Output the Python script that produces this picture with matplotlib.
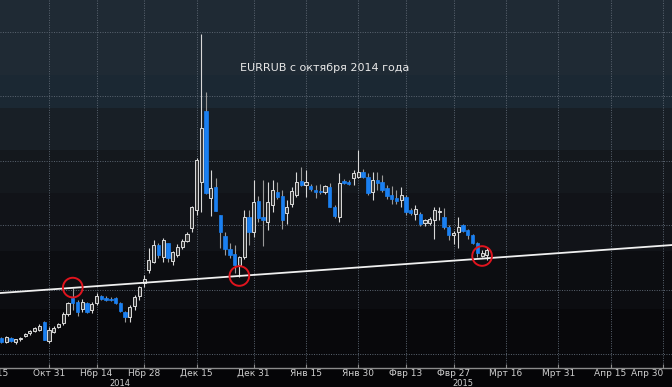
import numpy as np
import pandas as pd
import matplotlib
matplotlib.use("Agg")
import matplotlib.pyplot as plt
import matplotlib.transforms as mtransforms

# daily EURRUB candles (weekdays)
dates = pd.bdate_range("2014-10-17", "2015-03-10")
opens = [52.5, 51.9, 52.5, 51.9, 52.3, 52.8, 53.3, 53.6, 53.8, 55.0, 52.0,
         53.4, 54.2, 54.8, 56.2, 58.7, 58.1, 57.0, 57.9, 56.9, 57.9, 59.0, 58.7, 58.6, 58.7, 57.9,
         56.5, 55.7, 57.4, 59.0, 61.0,
         63.0, 64.3, 66.9, 65.0, 67.2, 64.5, 65.4, 66.6, 67.6, 69.5, 72.3, 76.7, 87.7, 74.2, 75.9,
         71.5, 68.3, 66.3, 65.5, 63.8, 65.0, 71.2, 68.9,
         73.7, 71.2, 70.5, 73.1, 75.1, 74.5, 71.9, 73.3, 74.7, 76.8, 76.2, 76.0, 75.5, 75.3, 75.1,
         75.9, 72.8, 71.2, 76.8, 76.6, 77.3, 77.4,
         78.2, 77.4, 75.1, 77.0, 76.7, 75.7, 74.6, 74.2, 73.9, 74.3, 72.3, 71.7, 71.7, 70.3, 70.3,
         70.8, 72.0, 71.2, 69.7, 68.5,
         68.9, 70.0, 69.2, 68.4, 67.2, 65.2, 65.3]
highs = [52.6, 52.8, 52.6, 52.4, 52.7, 53.3, 53.7, 54.2, 54.6, 55.1, 54.2,
         54.3, 54.8, 56.5, 58.0, 60.2, 58.3, 58.5, 58.1, 58.1, 59.5, 59.2, 59.0, 58.8, 58.9, 58.0,
         56.7, 57.6, 59.1, 60.6, 62.2,
         66.5, 67.7, 67.2, 68.0, 67.2, 66.0, 67.0, 67.9, 68.9, 73.0, 80.4, 99.6, 90.6, 78.5, 77.3,
         71.6, 68.9, 67.2, 66.9, 65.2, 72.3, 72.3, 77.0,
         74.5, 77.0, 76.7, 77.0, 76.7, 75.4, 73.9, 75.9, 78.2, 79.0, 78.5, 76.4, 76.2, 76.4, 76.2,
         76.5, 73.1, 78.1, 77.1, 77.0, 78.5, 81.6,
         78.7, 78.1, 78.2, 78.2, 77.8, 76.2, 76.0, 75.5, 75.9, 74.7, 72.6, 73.1, 72.0, 71.0, 71.2,
         72.8, 72.8, 72.6, 70.0, 69.0,
         71.2, 70.2, 69.4, 68.6, 67.3, 66.1, 66.6]
lows = [51.7, 51.7, 51.9, 51.6, 52.0, 52.7, 53.0, 53.4, 53.6, 52.1, 51.7,
        53.2, 54.0, 54.5, 55.9, 56.8, 55.9, 56.5, 56.3, 56.4, 57.6, 58.4, 58.2, 58.2, 57.8, 56.5,
        55.0, 55.0, 56.8, 58.4, 60.4,
        62.6, 64.1, 64.9, 64.3, 64.3, 63.8, 65.0, 66.3, 67.3, 68.9, 71.5, 72.0, 74.8, 71.4, 72.2,
        66.4, 65.3, 64.9, 62.6, 62.0, 64.8, 66.9, 68.1,
        70.5, 66.7, 69.2, 72.0, 74.0, 69.4, 70.2, 72.8, 74.3, 76.0, 74.3, 75.3, 74.2, 74.8, 74.8,
        72.8, 71.1, 70.5, 76.3, 76.2, 76.2, 77.3,
        77.3, 74.7, 73.9, 75.5, 75.2, 74.0, 73.3, 73.2, 72.8, 71.6, 71.5, 70.8, 69.9, 69.8, 70.0,
        67.8, 70.8, 69.4, 67.7, 67.0,
        66.4, 68.9, 67.8, 67.0, 65.0, 65.1, 64.6]
closes = [51.9, 52.6, 52.0, 52.3, 52.5, 53.1, 53.6, 54.0, 54.4, 52.2, 53.7,
          54.0, 54.6, 56.2, 57.9, 57.9, 56.5, 58.1, 56.5, 57.8, 59.0, 58.5, 58.4, 58.4, 57.9, 56.7,
          55.7, 57.3, 58.8, 60.4, 61.6,
          64.6, 66.9, 65.3, 67.7, 64.9, 65.8, 66.6, 67.6, 68.6, 72.8, 80.1, 85.0, 75.0, 75.7, 72.2,
          68.9, 66.3, 65.3, 63.8, 65.0, 71.2, 68.9, 73.6,
          71.1, 70.8, 73.6, 75.4, 74.3, 70.8, 72.8, 75.3, 76.7, 76.2, 76.7, 75.6, 75.1, 75.1, 76.0,
          72.8, 71.4, 76.5, 76.5, 76.4, 78.1, 78.2,
          77.4, 75.0, 77.0, 76.5, 75.4, 74.5, 74.0, 73.7, 74.7, 72.0, 71.8, 72.5, 70.2, 70.8, 71.0,
          72.3, 72.2, 69.7, 68.4, 68.7,
          69.7, 69.1, 68.4, 67.2, 65.6, 65.6, 66.2]

# support line and the three touches
trend_dates = ["2014-10-17", "2015-04-30"]
trend_prices = [59.47, 66.8]
circle_dates = ["2014-11-07", "2014-12-26", "2015-03-09"]
circle_prices = [60.3, 62.1, 65.2]

tick_dates = ["2014-10-31", "2014-11-14", "2014-11-28", "2014-12-15", "2014-12-31",
              "2015-01-15", "2015-01-30", "2015-02-13", "2015-02-27", "2015-03-16",
              "2015-03-31", "2015-04-15", "2015-04-30"]
tick_labels = ["Окт 31", "Нбр 14", "Нбр 28", "Дек 15", "Дек 31", "Янв 15", "Янв 30",
               "Фвр 13", "Фвр 27", "Мрт 16", "Мрт 31", "Апр 15", "Апр 30"]
year_dates = ["2014-11-21", "2015-03-03"]
year_labels = ["2014", "2015"]

base = np.datetime64("2014-10-15")


def day_pos(d):
    # weekday position counted from Oct 15 2014
    return np.busday_count(base, np.array(d, dtype="datetime64[D]"))


x = day_pos(dates.values.astype("datetime64[D]"))
o = np.array(opens)
h = np.array(highs)
l = np.array(lows)
c = np.array(closes)
up = c >= o

lab_font = ["Liberation Sans Narrow", "DejaVu Sans"]

fig = plt.figure(figsize=(6.72, 3.87), dpi=100)
fig.patch.set_facecolor("#050507")
ax = fig.add_axes([0, 19 / 387, 1, 368 / 387])
ax.set_xlim(1.71, 142.9)
ax.set_ylim(47.83, 104.9)
ax.set_facecolor("#08080b")

# banded dark background
band_edges = [104.9, 93.3, 88.1, 81.6, 75.0, 66.0, 57.0, 47.83]
band_colors = ["#1f2a34", "#1b2833", "#181f26", "#14181d", "#111318", "#0c0d11", "#08080b"]
for top, bot, col in zip(band_edges[:-1], band_edges[1:], band_colors):
    ax.axhspan(bot, top, color=col, zorder=0, lw=0)

# grid
ax.set_yticks([50, 60, 70, 80, 90, 100])
ax.set_xticks(day_pos(tick_dates))
ax.set_xticklabels(tick_labels, family=lab_font)
ax.get_xticklabels()[-1].set_horizontalalignment("right")
ax.grid(True, color="#5c6672", linestyle=(0, (1, 1.5)), linewidth=0.7, zorder=1)
ax.tick_params(axis="y", left=False, labelleft=False)
ax.tick_params(axis="x", colors="#8c8c8c", labelcolor="#d0d0d0", labelsize=6.5,
               length=3, direction="in", pad=0.5)
for s in ["top", "left", "right"]:
    ax.spines[s].set_visible(False)
ax.spines["bottom"].set_color("#8c8c8c")
ax.spines["bottom"].set_linewidth(1)

# candles
ax.vlines(x[up], l[up], h[up], color="#d8d8d8", linewidth=0.8, zorder=3)
ax.vlines(x[~up], l[~up], h[~up], color="#9a9a9a", linewidth=0.8, zorder=3)
ax.bar(x[up], c[up] - o[up], bottom=o[up], width=0.65, color="#3a3a3a",
       edgecolor="#dcdcdc", linewidth=0.7, zorder=4)
ax.bar(x[~up], c[~up] - o[~up], bottom=o[~up], width=0.7, color="#1a80f2",
       edgecolor="#1a80f2", linewidth=0.5, zorder=4)

# support line and circles
tx = day_pos(trend_dates)
ax.axline((tx[0], trend_prices[0]), (tx[1], trend_prices[1]), color="#f0f0f0",
          linewidth=1.3, zorder=5)
ax.scatter(day_pos(circle_dates), circle_prices, s=200, facecolors="none",
           edgecolors="#e0141e", linewidths=1.4, zorder=6)

# labels
trans = mtransforms.blended_transform_factory(ax.transData, ax.transAxes)
ax.text(0, -0.004, "Окт 15", transform=trans, family=lab_font,
        color="#d0d0d0", fontsize=6.5, ha="center", va="top", clip_on=False)
for d, t in zip(year_dates, year_labels):
    ax.text(day_pos(d), -0.041, t, transform=trans, family=lab_font, color="#d0d0d0",
            fontsize=6, ha="center", va="center", clip_on=False)

ax.text(0.357, 0.815, "EURRUB с октября 2014 года", transform=ax.transAxes,
        color="#e8e8e8", fontsize=8, ha="left", va="center", zorder=7)

fig.savefig("out.png", dpi=100, facecolor=fig.get_facecolor())
